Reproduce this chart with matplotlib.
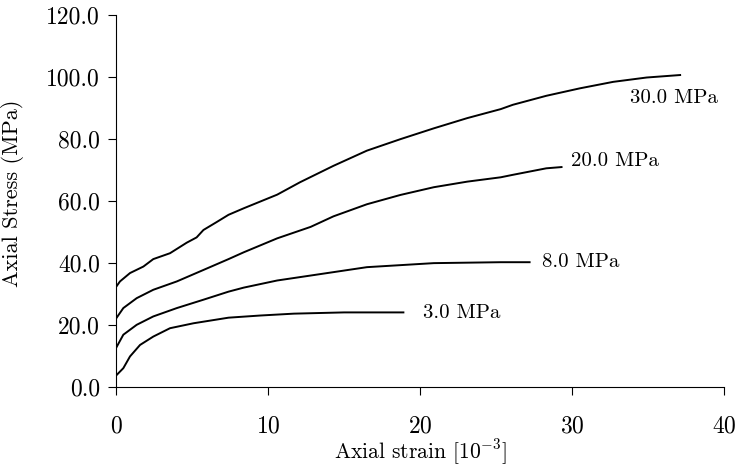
"""Axial stress vs axial strain at four confining pressures."""
import matplotlib
matplotlib.use("Agg")
import matplotlib.pyplot as plt
from matplotlib.ticker import FormatStrFormatter

plt.rcParams.update({"font.family": "serif", "font.serif": ["cmr10"],
                     "mathtext.fontset": "cm", "axes.formatter.use_mathtext": True,
                     "font.size": 16})

# values, strain in 1e-3, stress in MPa
strain_30 = [0.0, 0.26, 0.92, 1.8, 2.45, 3.55, 4.65, 5.3, 5.75, 6.6, 7.4, 8.4,
             10.6, 12.1, 14.3, 16.5, 18.7, 20.9, 23.1, 25.3, 26.1, 28.3, 30.5,
             32.7, 34.9, 37.1]
stress_30 = [32.2, 34.0, 36.7, 38.8, 41.2, 43.1, 46.5, 48.2, 50.6, 53.1, 55.5,
             57.6, 62.0, 66.0, 71.3, 76.2, 79.9, 83.4, 86.7, 89.6, 91.0, 93.9,
             96.3, 98.4, 99.8, 100.6]

strain_20 = [0.0, 0.48, 1.36, 2.45, 4.0, 5.75, 7.4, 8.4, 10.6, 12.8, 14.3,
             16.5, 18.7, 20.9, 23.1, 25.3, 26.1, 28.3, 29.3]
stress_20 = [22.0, 25.4, 28.6, 31.3, 34.0, 37.7, 41.2, 43.4, 47.9, 51.6, 55.0,
             58.9, 61.9, 64.4, 66.2, 67.6, 68.4, 70.5, 70.9]

strain_8 = [0.0, 0.48, 1.36, 2.45, 4.0, 5.75, 7.4, 8.4, 10.6, 12.8, 16.5,
            20.9, 25.3, 27.2]
stress_8 = [12.5, 16.8, 20.0, 22.7, 25.4, 28.1, 30.7, 32.0, 34.3, 35.9, 38.6,
            39.9, 40.2, 40.2]

strain_3 = [0.0, 0.48, 0.92, 1.58, 2.45, 3.55, 5.1, 7.4, 9.5, 11.7, 15.0, 18.9]
stress_3 = [3.6, 6.0, 9.8, 13.5, 16.2, 18.9, 20.5, 22.3, 23.0, 23.6, 24.0, 24.0]

labels = ["30.0 MPa", "20.0 MPa", "8.0 MPa", "3.0 MPa"]
label_xy = [(33.8, 93.2), (29.9, 72.9), (28.0, 40.3), (20.2, 23.9)]

fig = plt.figure(figsize=(7.39, 4.66), dpi=100)
ax = fig.add_axes([0.157, 0.170, 0.823, 0.798])

for xs, ys in [(strain_30, stress_30), (strain_20, stress_20),
               (strain_8, stress_8), (strain_3, stress_3)]:
    ax.plot(xs, ys, color="black", lw=1.4)
for lab, (lx, ly) in zip(labels, label_xy):
    ax.text(lx, ly, lab, ha="left", va="center", fontsize=15)

ax.set_xlim(0, 40); ax.set_ylim(0, 120)
ax.set_xticks([0, 10, 20, 30, 40])
ax.set_yticks([0, 20, 40, 60, 80, 100, 120])
ax.yaxis.set_major_formatter(FormatStrFormatter("%.1f"))
ax.spines["top"].set_visible(False); ax.spines["right"].set_visible(False)
ax.tick_params(axis="x", direction="out", length=5.5, pad=15, labelsize=17)
ax.tick_params(axis="y", direction="out", length=5.5, pad=6, labelsize=17)
ax.set_xlabel(r"Axial strain [10$^{\mathrm{-3}}$]", labelpad=0, fontsize=15.5)
ax.set_ylabel("Axial Stress (MPa)")
ax.yaxis.set_label_coords(-0.152, 0.519)

fig.savefig("out.png", dpi=100)
